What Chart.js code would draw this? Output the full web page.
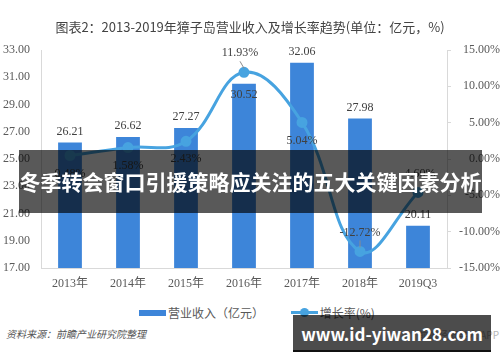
<!DOCTYPE html>
<html>
<head>
<meta charset="utf-8">
<script src="https://cdn.jsdelivr.net/npm/chart.js@4.4.1/dist/chart.umd.min.js"></script>
<style>
  body { margin: 0; background: #ffffff; }
  #wrap { position: relative; width: 500px; height: 362px; overflow: hidden; background: #fff;
          font-family: "Noto Sans CJK SC", "Noto Sans", sans-serif; }
  #plot { position: absolute; left: 0; top: 0; width: 500px; height: 300px; }
  #title { position: absolute; left: 0; top: 18px; width: 500px; text-align: center;
           font-size: 13px; color: #444; line-height: 18px; }
  #legend { position: absolute; top: 302px; left: 139px; font-size: 12px; color: #595959;
            line-height: 18px; white-space: nowrap; }
  #legend span { display: inline-block; vertical-align: middle; }
  .barIcon { width: 27px; height: 6px; background: #3d85d9; margin-right: 2px; }
  .lineIcon { position: relative; width: 27px; height: 3px; background: #47a3e0; margin: 0 2px 0 24px; }
  .lineIcon i { position: absolute; left: 9px; top: -3px; width: 9px; height: 9px; border-radius: 50%; background: #47a3e0; }
  #source { position: absolute; left: 6px; top: 326px; font-size: 10px; font-style: italic; color: #555; }
  #app { position: absolute; right: 1px; top: 327px; font-size: 10px; color: #b5b5b5; white-space: nowrap; }
  #banner { position: absolute; left: 19px; top: 150px; width: 463px; height: 63px;
            background: rgba(0,0,0,0.65); color: #fff; font-weight: bold; font-size: 21px;
            line-height: 63px; text-align: center; white-space: nowrap; }
  #site { position: absolute; left: 293px; top: 315px; width: 198px; height: 35px;
          background: rgba(0,0,0,0.7); border-bottom: 2px solid #111; color: #fff;
          font-weight: bold; font-size: 17px; line-height: 38px; text-align: center;
          white-space: nowrap; font-family: "Noto Sans CJK SC", "Noto Sans", sans-serif; }
</style>
</head>
<body>
<div id="wrap">
  <div id="plot"><canvas id="revChart"></canvas></div>
  <div id="title">图表2：2013-2019年獐子岛营业收入及增长率趋势(单位：亿元，%)</div>
  <div id="legend">
    <span class="barIcon"></span><span>营业收入（亿元）</span>
    <span class="lineIcon"><i></i></span><span>增长率(%)</span>
  </div>
  <div id="source">资料来源：前瞻产业研究院整理</div>
  <div id="app">前瞻经济学人 APP</div>
  <div id="banner">冬季转会窗口引援策略应关注的五大关键因素分析</div>
  <div id="site">www.id-yiwan28.com</div>
</div>

<script>
// Data
const years = ["2013年", "2014年", "2015年", "2016年", "2017年", "2018年", "2019Q3"];
const revenue = [26.21, 26.62, 27.27, 30.52, 32.06, 27.98, 20.11];
const growth = [0.48, 1.58, 2.43, 11.93, 5.04, -12.72, -4.6];

// where each value label sits
const revenueLabelPos = ["top", "top", "top", "inside", "top", "top", "top"];
const growthLabelPos = ["below", "below", "below", "above", "below", "above", "above"];

const serif = '"Liberation Serif", "Noto Sans CJK SC", serif';

// Draw value labels for bars and line
const valueLabels = {
    id: "valueLabels",
    afterDatasetsDraw(chart) {
        const ctx = chart.ctx;
        ctx.save();
        ctx.font = "12px " + serif;
        ctx.fillStyle = "#404040";
        ctx.textAlign = "center";
        ctx.textBaseline = "middle";

        chart.getDatasetMeta(0).data.forEach((bar, i) => {
            const y = revenueLabelPos[i] === "inside" ? bar.y + 11 : bar.y - 11;
            ctx.fillText(revenue[i].toFixed(2), bar.x, y);
        });

        ctx.strokeStyle = "#8c8c8c";
        ctx.lineWidth = 1;
        chart.getDatasetMeta(1).data.forEach((pt, i) => {
            const text = growth[i].toFixed(2) + "%";
            if (growthLabelPos[i] === "above") {
                const lx = i === 3 ? pt.x - 4 : pt.x;
                const ly = pt.y - 19;
                ctx.fillText(text, lx, ly);
                if (i < growth.length - 1) {
                    ctx.beginPath();
                    ctx.moveTo(lx, ly + 8);
                    ctx.lineTo(pt.x, pt.y - 4);
                    ctx.stroke();
                }
            } else {
                ctx.fillText(text, pt.x, pt.y + 18);
            }
        });
        ctx.restore();
    }
};

const ctx = document.getElementById("revChart").getContext("2d");

new Chart(ctx, {
    data: {
        labels: years,
        datasets: [
            {
                type: "bar",
                label: "营业收入（亿元）",
                data: revenue,
                backgroundColor: "#3d85d9",
                categoryPercentage: 1,
                barPercentage: 0.41,
                yAxisID: "y",
                order: 2
            },
            {
                type: "line",
                label: "增长率(%)",
                data: growth,
                borderColor: "#47a3e0",
                backgroundColor: "#47a3e0",
                borderWidth: 3,
                tension: 0.4,
                pointRadius: 4,
                pointBackgroundColor: "#47a3e0",
                pointBorderColor: "#47a3e0",
                yAxisID: "y1",
                order: 1
            }
        ]
    },
    options: {
        responsive: true,
        maintainAspectRatio: false,
        animation: false,
        layout: { padding: { top: 50, left: 0, right: 0, bottom: 0 } },
        plugins: {
            legend: { display: false },
            tooltip: { enabled: false }
        },
        scales: {
            x: {
                offset: true,
                grid: { display: false, drawTicks: false },
                border: { color: "#d9d9d9" },
                ticks: { color: "#595959", font: { size: 12, family: serif }, padding: 9, maxRotation: 0 },
                afterFit(scale) { scale.height = 32; }
            },
            y: {
                position: "left",
                min: 17,
                max: 33,
                grid: { display: false, drawTicks: false },
                border: { color: "#d9d9d9" },
                ticks: {
                    stepSize: 2,
                    color: "#595959",
                    font: { size: 12, family: serif },
                    padding: 11,
                    callback: v => v.toFixed(2)
                },
                afterFit(scale) { scale.width = 41; }
            },
            y1: {
                position: "right",
                min: -15,
                max: 15,
                grid: { drawOnChartArea: false, drawTicks: true, tickLength: 4, color: "#d9d9d9" },
                border: { color: "#d9d9d9" },
                ticks: {
                    stepSize: 5,
                    color: "#595959",
                    font: { size: 12, family: serif },
                    padding: 4,
                    crossAlign: "far",
                    callback: v => v.toFixed(2) + "%"
                },
                afterFit(scale) { scale.width = 53; }
            }
        }
    },
    plugins: [valueLabels]
});
</script>
</body>
</html>
